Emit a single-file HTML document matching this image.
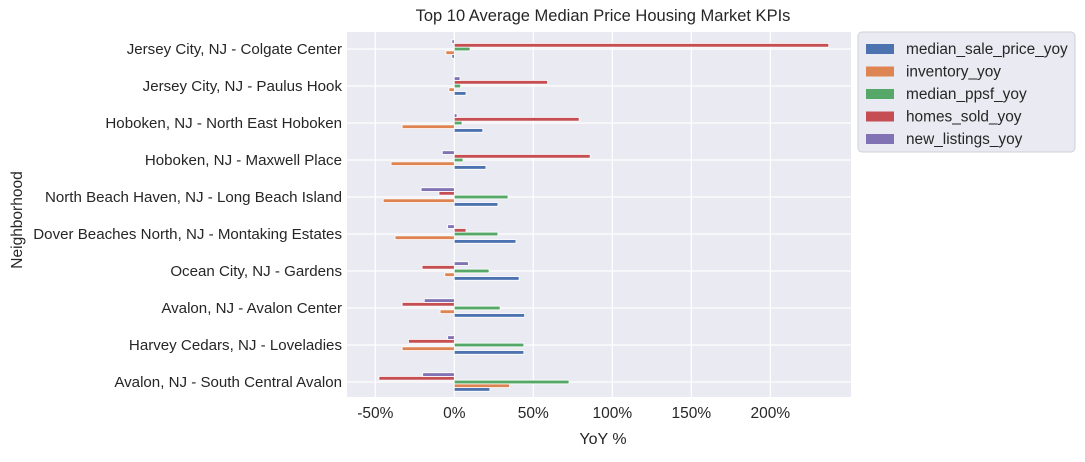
<!DOCTYPE html>
<html><head><meta charset="utf-8"><style>
body{margin:0;background:#fff;font-family:"Liberation Sans",sans-serif}
svg text{font-family:"Liberation Sans","DejaVu Sans",sans-serif;fill:#262626}
</style></head><body>
<svg id="c" width="1085" height="457"></svg>
<script>
const categories=["Jersey City, NJ - Colgate Center","Jersey City, NJ - Paulus Hook","Hoboken, NJ - North East Hoboken","Hoboken, NJ - Maxwell Place","North Beach Haven, NJ - Long Beach Island","Dover Beaches North, NJ - Montaking Estates","Ocean City, NJ - Gardens","Avalon, NJ - Avalon Center","Harvey Cedars, NJ - Loveladies","Avalon, NJ - South Central Avalon"];
const seriesNames=["median_sale_price_yoy","inventory_yoy","median_ppsf_yoy","homes_sold_yoy","new_listings_yoy"];
const medianSalePrice=[-1.5,7.4,18,20,27.6,39,41,44.5,44,22.5];
const inventory=[-5.3,-3.4,-33,-40,-45,-37.5,-6,-9,-33,35];
const medianPpsf=[10,4,4.9,5.5,34,27.6,22,29,44,72.6];
const homesSold=[237,59,79,86,-9.7,7.4,-20.4,-33,-29,-47.7];
const newListings=[-1.5,3.6,1.7,-7.6,-21,-4.2,8.9,-19,-4.2,-20];
const xTicks=[-50,0,50,100,150,200];
const colors=["#4c72b0","#dd8452","#55a868","#c44e52","#8172b3"];
const svg=document.getElementById('c');const NS="http://www.w3.org/2000/svg";
function mk(t,a,p){const e=document.createElementNS(NS,t);for(const k in a)e.setAttribute(k,a[k]);(p||svg).appendChild(e);return e;}
const L=347,R=851,T=32,B=397;
const x=v=>454.3+v*1.58;
const y=i=>49+i*37;
const bg=mk('rect',{x:L,y:T,width:R-L,height:B-T,fill:'#eaeaf2'});

xTicks.forEach(t=>{const g=mk('line',{x1:x(t),x2:x(t),y1:T,y2:B,stroke:'#fff','stroke-width':1.2});

const tx=mk('text',{x:x(t),y:418,'text-anchor':'middle','font-size':15.5});tx.textContent=t+'%';
});
categories.forEach((c,i)=>{const g=mk('line',{x1:L,x2:R,y1:y(i),y2:y(i),stroke:'#fff','stroke-width':1.2});

const tx=mk('text',{x:342,y:y(i)+5,'text-anchor':'end','font-size':15.1});tx.textContent=c;
});
const all=[medianSalePrice,inventory,medianPpsf,homesSold,newListings];
const bh=3.7;
all.forEach((arr,s)=>{arr.forEach((v,i)=>{const cy=y(i)+(2-s)*bh;const x0=Math.min(x(0),x(v));
const r=mk('rect',{x:x0,y:cy-bh/2,width:Math.abs(x(v)-x(0)),height:bh,fill:colors[s],stroke:'#fff','stroke-width':0.8});
});});
const ti=mk('text',{x:603,y:21,'text-anchor':'middle','font-size':16.5});ti.textContent='Top 10 Average Median Price Housing Market KPIs';

const xt=mk('text',{x:603,y:444,'text-anchor':'middle','font-size':16});xt.textContent='YoY %';

const yt=mk('text',{x:22,y:220,'text-anchor':'middle','font-size':15.5,transform:'rotate(-90 22 220)'});yt.textContent='Neighborhood';

const lg=mk('rect',{x:858,y:32,width:217,height:120,rx:4,fill:'#eaeaf2',stroke:'#d0d0d8'});

seriesNames.forEach((n,s)=>{const ly=49+s*22.5;
const sw=mk('rect',{x:866,y:ly-5,width:28,height:10,fill:colors[s]});

const t=mk('text',{x:906,y:ly+5,'font-size':15.4});t.textContent=n;
});
</script>
</body></html>
